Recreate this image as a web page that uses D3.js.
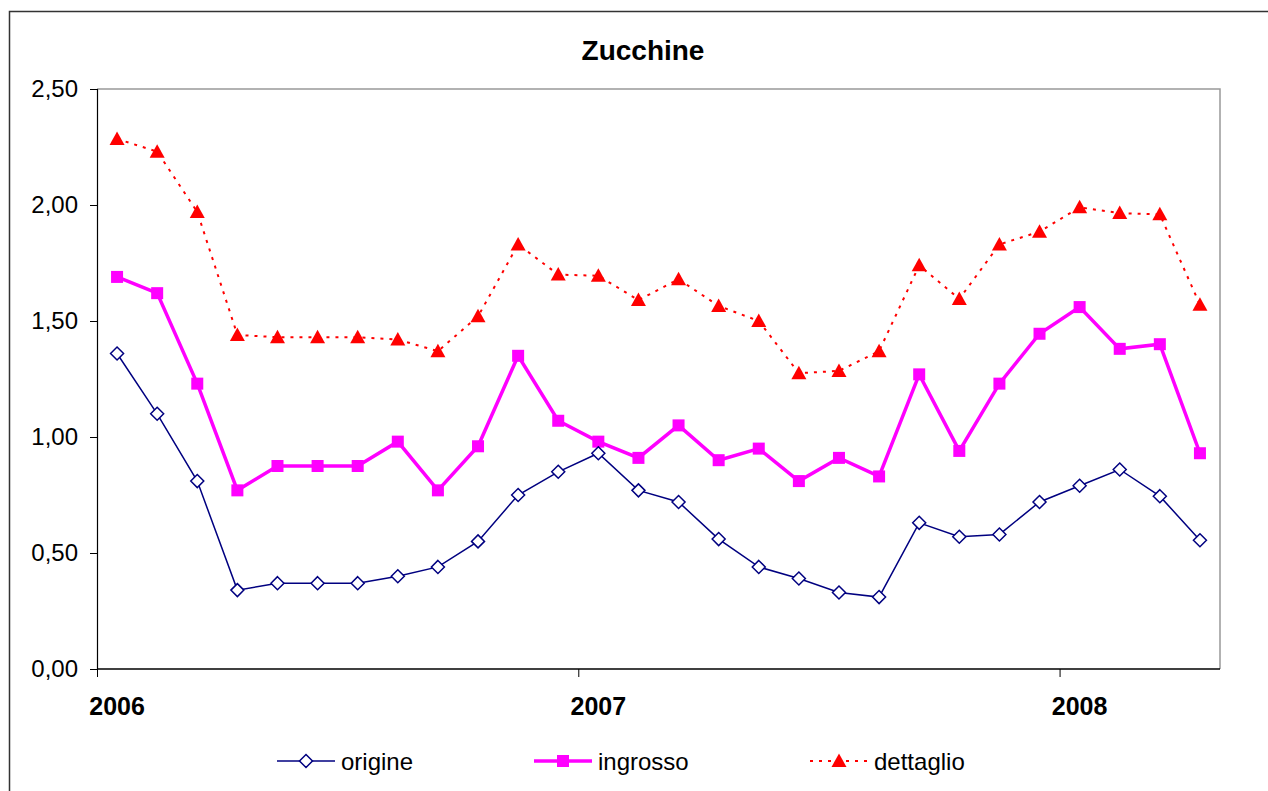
<!DOCTYPE html>
<html>
<head>
<meta charset="utf-8">
<script src="https://cdn.jsdelivr.net/npm/d3@7"></script>
<style>
    body { margin: 0; background: #fff; }
    text { font-family: Arial, "Liberation Sans", sans-serif; }
</style>
</head>
<body>
<div id="chart"></div>
<script>
// monthly categories, Jan 2006 .. Apr 2008
let months = [];
for (let y = 2006; y <= 2008; ++y)
    for (let m = 1; m <= 12; ++m)
        if (y < 2008 || m <= 4) months.push(y + "-" + m);

let yearLabels = ["2006", "2007", "2008"];
let yTicks = [0, 0.5, 1, 1.5, 2, 2.5];

let origine = [1.36, 1.10, 0.81, 0.34, 0.37, 0.37, 0.37, 0.40, 0.44, 0.55, 0.75, 0.85,
    0.93, 0.77, 0.72, 0.56, 0.44, 0.39, 0.33, 0.31, 0.63, 0.57, 0.58, 0.72,
    0.79, 0.86, 0.745, 0.555];
let ingrosso = [1.69, 1.62, 1.23, 0.77, 0.875, 0.875, 0.875, 0.98, 0.77, 0.96, 1.35, 1.07,
    0.98, 0.91, 1.05, 0.90, 0.95, 0.81, 0.91, 0.83, 1.27, 0.94, 1.23, 1.445,
    1.56, 1.38, 1.40, 0.93];
let dettaglio = [2.285, 2.23, 1.97, 1.44, 1.43, 1.43, 1.43, 1.42, 1.37, 1.52, 1.83, 1.70,
    1.695, 1.59, 1.68, 1.565, 1.50, 1.275, 1.285, 1.37, 1.74, 1.595, 1.83, 1.885,
    1.99, 1.965, 1.96, 1.57];

let W = 1268, H = 791;
let margin = {top: 89, right: 48, bottom: 122, left: 97};
let width = W - margin.left - margin.right;
let height = H - margin.top - margin.bottom;

let svg = d3.select("#chart").append("svg")
    .attr("width", W)
    .attr("height", H);

// outer frame (right/bottom run off the picture)
svg.append("rect")
    .attr("x", 9.5).attr("y", 11.5)
    .attr("width", W + 20).attr("height", H + 20)
    .style("fill", "none").style("stroke", "#333").style("stroke-width", 1.5);

let g = svg.append("g")
    .attr("transform", "translate(" + margin.left + " " + margin.top + ")");

let x = d3.scaleBand().domain(months).range([0, width]);
let y = d3.scaleLinear().domain([0, 2.5]).range([height, 0]);
let cx = function (i) { return x(months[i]) + x.bandwidth() / 2; };

// plot area border (grey top/right)
g.append("path")
    .attr("d", "M0,0H" + width + "V" + height)
    .style("fill", "none").style("stroke", "#999").style("stroke-width", 1.5);

// y axis
let yAxis = g.append("g")
    .call(d3.axisLeft(y).tickValues(yTicks).tickSize(7).tickPadding(12)
        .tickFormat(function (d) { return d3.format(".2f")(d).replace(".", ","); }));
yAxis.select(".domain").style("stroke", "#000").style("stroke-width", 1.2);
yAxis.selectAll("line").style("stroke", "#000");
yAxis.selectAll("text").style("font-size", "24px").style("fill", "#000")
    .style("font-family", "Arial, 'Liberation Sans', sans-serif");

// x axis: ticks at year boundaries, labels on January
let yearStarts = months.filter(function (d) { return d.endsWith("-1"); });
let xAxis = g.append("g").attr("transform", "translate(0," + height + ")");
xAxis.append("line")
    .attr("x1", 0).attr("x2", width)
    .style("stroke", "#000").style("stroke-width", 1.5);
xAxis.selectAll(".tk").data(yearStarts).enter().append("line")
    .attr("x1", function (d) { return x(d) + 0.5; })
    .attr("x2", function (d) { return x(d) + 0.5; })
    .attr("y1", 0).attr("y2", 8)
    .style("stroke", "#000");
xAxis.selectAll(".lbl").data(yearStarts).enter().append("text")
    .attr("x", function (d) { return x(d) + x.bandwidth() / 2; })
    .attr("y", 46)
    .style("text-anchor", "middle")
    .style("font-size", "25px")
    .style("font-weight", "bold")
    .text(function (d, i) { return yearLabels[i]; });

// title
svg.append("text")
    .attr("x", 643).attr("y", 60)
    .style("text-anchor", "middle")
    .style("font-size", "28px")
    .style("font-weight", "bold")
    .text("Zucchine");

let series = [
    {name: "origine", data: origine, color: "#000080", width: 1.5, dash: null, shape: "diamond"},
    {name: "ingrosso", data: ingrosso, color: "#FF00FF", width: 3.5, dash: null, shape: "square"},
    {name: "dettaglio", data: dettaglio, color: "#FF0000", width: 2, dash: "3,6", shape: "triangle"}
];

function marker(sel, s) {
    if (s.shape === "diamond") {
        sel.append("path").attr("d", "M0,-6.5L6.5,0L0,6.5L-6.5,0Z")
            .style("fill", "#fff").style("stroke", s.color).style("stroke-width", 1.5);
    } else if (s.shape === "square") {
        sel.append("rect").attr("x", -6).attr("y", -6).attr("width", 12).attr("height", 12)
            .style("fill", s.color);
    } else {
        sel.append("path").attr("d", "M0,-7.5L7.5,6L-7.5,6Z")
            .style("fill", s.color);
    }
}

let line = d3.line()
    .x(function (d, i) { return cx(i); })
    .y(function (d) { return y(d); });

// draw from back to front: dettaglio, ingrosso, origine
series.slice().reverse().forEach(function (s) {
    g.append("path")
        .datum(s.data)
        .attr("d", line)
        .style("fill", "none")
        .style("stroke", s.color)
        .style("stroke-width", s.width)
        .style("stroke-dasharray", s.dash);
    g.append("g").selectAll("g")
        .data(s.data)
        .enter()
        .append("g")
        .attr("transform", function (d, i) { return "translate(" + cx(i) + "," + y(d) + ")"; })
        .each(function () { marker(d3.select(this), s); });
});

// legend
let legendX = [277, 534, 810];
let legendY = 761;
series.forEach(function (s, i) {
    let lg = svg.append("g").attr("transform", "translate(" + legendX[i] + "," + legendY + ")");
    lg.append("line")
        .attr("x1", 0).attr("x2", 58)
        .style("stroke", s.color)
        .style("stroke-width", s.width)
        .style("stroke-dasharray", s.dash);
    marker(lg.append("g").attr("transform", "translate(29,0)"), s);
    lg.append("text")
        .attr("x", 64).attr("y", 9)
        .style("font-size", "24px")
        .text(s.name);
});
</script>
</body>
</html>
